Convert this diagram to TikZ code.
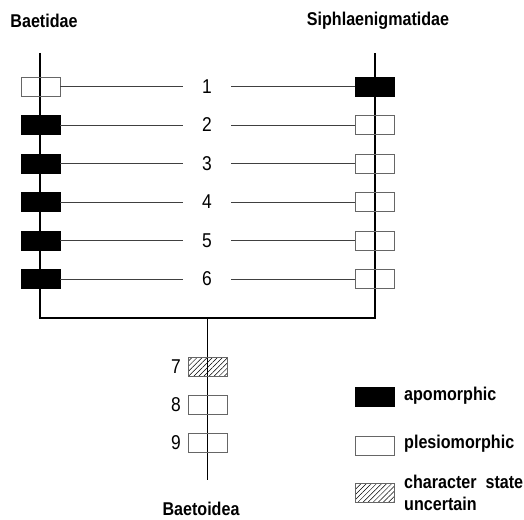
\documentclass[tikz,border=0pt]{standalone}
\usepackage{fontspec}
\setmainfont{Liberation Sans}
\newfontfamily\lblfont[FakeStretch=0.87]{Liberation Sans}
\usetikzlibrary{patterns.meta}
\begin{document}
\begin{tikzpicture}[x=1pt,y=-1pt,
  lbl/.style={font=\lblfont\fontsize{18.5}{20}\selectfont\bfseries, inner sep=0pt},
  num/.style={font=\lblfont\fontsize{20}{22}\selectfont, inner sep=0pt, minimum width=48pt, minimum height=14pt},
  lnum/.style={font=\lblfont\fontsize{20}{22}\selectfont, inner sep=0pt, anchor=east},
  stem/.style={line width=1.2pt, black},
  tie/.style={line width=0.7pt, black!75},
  cbox/.style={draw=black!60, line width=0.8pt, minimum width=39pt, minimum height=19pt, inner sep=0pt},
  apo/.style={cbox, fill=black, draw=black},
  ple/.style={cbox},
  unc/.style={cbox, pattern={Lines[angle=45,distance=3.6pt,line width=0.5pt]}}
]
\useasboundingbox (0,0) rectangle (524,519);

% titles
\node[lbl] (baetidae) at (44,21) {Baetidae};
\node[lbl] (siph) at (378,21) {Siphlaenigmatidae};
\node[lbl] (baetoidea) at (201,509) {Baetoidea};

% stems
\coordinate (ltop) at (40,53);
\coordinate (rtop) at (375,53);
\coordinate (lbot) at (40,318);
\coordinate (rbot) at (375,318);
\coordinate (mjoin) at (207.5,318);
\coordinate (mbot) at (207.5,480);
\draw[stem] (ltop) -- (lbot) -- (rbot) -- (rtop);
\draw[stem] (mjoin) -- (mbot);

% rows
\foreach \i/\y/\ls/\rs in {1/86.5/ple/apo, 2/125/apo/ple, 3/163.5/apo/ple, 4/202/apo/ple, 5/240.5/apo/ple, 6/279/apo/ple}{
  \node[\ls] (L\i) at (40.5,\y) {};
  \node[\rs] (R\i) at (375,\y) {};
  \node[num] (n\i) at (207,\y) {\i};
  \draw[tie] (L\i.east) -- (n\i.west);
  \draw[tie] (n\i.east) -- (R\i.west);
}

% basal characters
\node[unc] (b7) at (207.5,366.5) {};
\node[ple] (b8) at (207.5,404.8) {};
\node[ple] (b9) at (207.5,443) {};
\node[lnum] (n7) at (181,366.5) {7};
\node[lnum] (n8) at (181,404.8) {8};
\node[lnum] (n9) at (181,443) {9};

% legend
\node[apo] (la) at (375,397) {};
\node[ple] (lp) at (375,445.5) {};
\node[unc] (lu) at (375,493) {};
\node[lbl, anchor=west] (ta) at (404,396) {apomorphic};
\node[lbl, anchor=west] (tp) at (404,444) {plesiomorphic};
\node[lbl, anchor=west, align=left, font=\lblfont\fontsize{18.5}{22}\selectfont\bfseries] (tu) at (404,493) {character\ \ state\\uncertain};
\end{tikzpicture}
\end{document}
